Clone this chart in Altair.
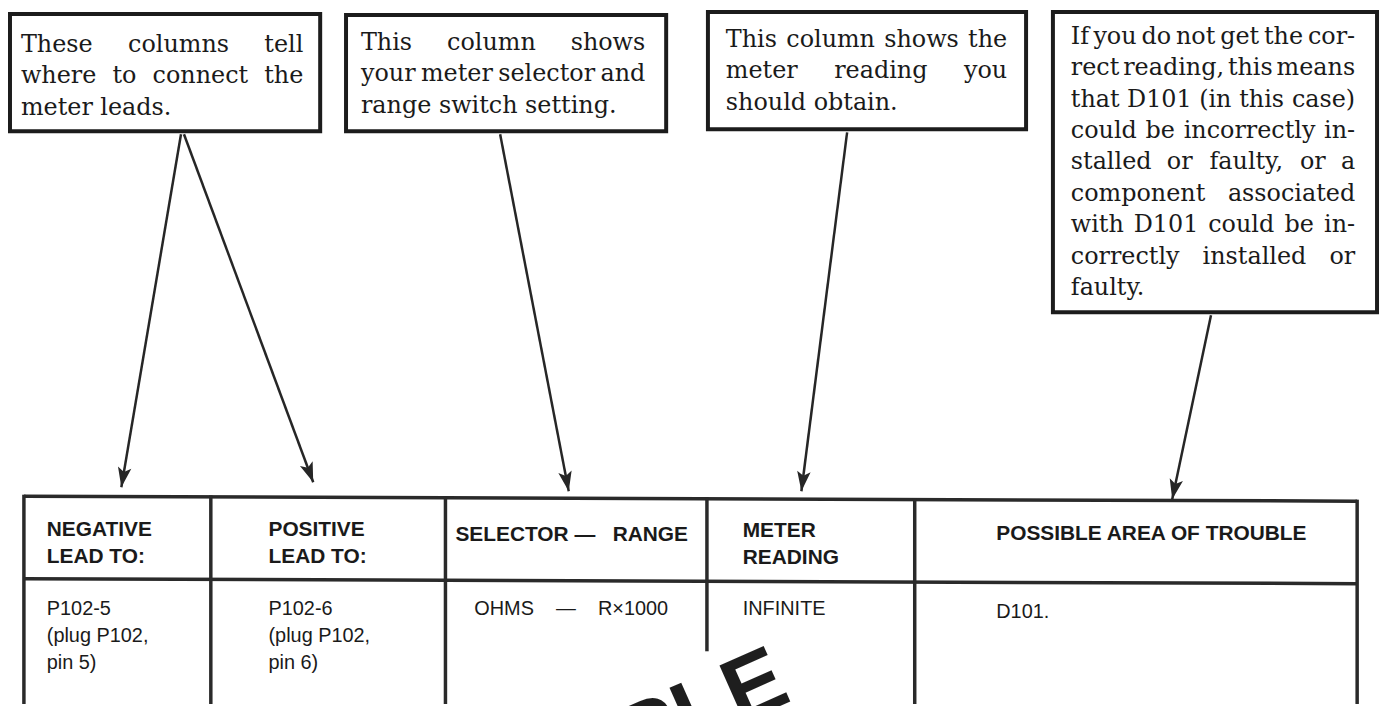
import math
import altair as alt
import pandas as pd

# ---------------- content ----------------
callout_lines = [
    ["These columns tell", "where to connect the", "meter leads."],
    ["This column shows", "your meter selector and", "range switch setting."],
    ["This column shows the", "meter reading you", "should obtain."],
    ["If you do not get the cor-", "rect reading, this means", "that D101 (in this case)",
     "could be incorrectly in-", "stalled or faulty, or a", "component associated",
     "with D101 could be in-", "correctly installed or", "faulty."],
]
header_lines = [["NEGATIVE", "LEAD TO:"], ["POSITIVE", "LEAD TO:"],
                ["SELECTOR —\u00a0\u00a0\u00a0RANGE"], ["METER", "READING"],
                ["POSSIBLE AREA OF TROUBLE"]]
body_lines = [["P102-5", "(plug P102,", "pin 5)"], ["P102-6", "(plug P102,", "pin 6)"],
              ["OHMS\u00a0\u00a0\u00a0\u00a0—\u00a0\u00a0\u00a0\u00a0R×1000"], ["INFINITE"], ["D101."]]
watermark_text = "SAMPLE"

# ---------------- layout (reference pixel coordinates) ----------------
box_left = [10, 348, 712, 1059]
box_right = [322, 670, 1032, 1385]
box_top = [12, 13, 10, 10]
box_bottom = [130, 130, 128, 312]
text_left = [21, 363, 730, 1077]
text_right = [305, 649, 1013, 1363]
first_baseline = [50, 48, 45, 42]
line_step = 31.6

arrow_x0 = [182, 185, 503, 852, 1218]
arrow_y0 = [133, 133, 133, 131, 315]
arrow_x1 = [122, 315, 572, 806, 1179]
arrow_y1 = [488, 483, 492, 492, 500]

col_x = [24, 212, 448, 711, 920, 1365]
col_bottom = [706, 706, 706, 653, 706, 706]
top_line = [497, 502]      # y at left / right end
header_line = [580, 585]
header_x = [47, 270, 458, 747, 1002]
header_y0 = [537, 537, 542, 538, 541]
header_step = 27
body_x = [47, 270, 477, 747, 1002]
body_y0 = [617, 617, 617, 617, 620]
body_step = 27
wm_x, wm_y, wm_angle = 798, 702, 336

INK = "#1a1a1a"
SERIF = "DejaVu Serif"
SERIF_SIZE = 24
SANS = "Liberation Sans"

# approximate advance widths (em) of the serif face, used to justify lines
SERIF_W = {' ': .318, 'a': .596, 'b': .640, 'c': .560, 'd': .640, 'e': .592, 'f': .370,
           'g': .640, 'h': .644, 'i': .320, 'j': .310, 'k': .602, 'l': .320, 'm': .948,
           'n': .644, 'o': .602, 'p': .640, 'q': .640, 'r': .478, 's': .513, 't': .402,
           'u': .644, 'v': .565, 'w': .856, 'x': .564, 'y': .565, 'z': .523, 'D': .771,
           'I': .372, 'T': .669, '0': .636, '1': .636, '.': .318, ',': .318, '(': .390,
           ')': .390, '-': .338}


def est_w(s):
    return sum(SERIF_W.get(c, 0.6) for c in s) * SERIF_SIZE


# ---------------- build tables ----------------
boxes = pd.DataFrame({"x": box_left, "x2": box_right, "y": box_top, "y2": box_bottom})

arrows = pd.DataFrame({"x": arrow_x0, "y": arrow_y0, "x2": arrow_x1, "y2": arrow_y1})
heads = pd.DataFrame({
    "x": arrow_x1, "y": arrow_y1,
    "ang": [math.degrees(math.atan2(-(b - a), (d - c))) % 360
            for a, b, c, d in zip(arrow_x0, arrow_x1, arrow_y0, arrow_y1)],
})


def interp(line, x):
    return line[0] + (line[1] - line[0]) * (x - col_x[0]) / (col_x[-1] - col_x[0])


segs = [
    dict(x=col_x[0], y=top_line[0], x2=col_x[-1], y2=top_line[1]),
    dict(x=col_x[0], y=header_line[0], x2=col_x[-1], y2=header_line[1]),
]
for cx, cb in zip(col_x, col_bottom):
    segs.append(dict(x=cx, y=interp(top_line, cx) - 1.5, x2=cx, y2=cb))
table_lines = pd.DataFrame(segs)

left_words, center_words, right_words = [], [], []
for b, lines in enumerate(callout_lines):
    L, R = text_left[b], text_right[b]
    for i, line in enumerate(lines):
        y = first_baseline[b] + i * line_step
        words = line.split(" ")
        if i == len(lines) - 1 or len(words) == 1:
            left_words.append(dict(x=L, y=y, t=line))
            continue
        widths = [est_w(w) for w in words]
        gap = (R - L - sum(widths)) / (len(words) - 1)
        cur = L
        for j, (w, ww) in enumerate(zip(words, widths)):
            if j == 0:
                left_words.append(dict(x=L, y=y, t=w))
            elif j == len(words) - 1:
                right_words.append(dict(x=R, y=y, t=w))
            else:
                center_words.append(dict(x=cur + ww / 2, y=y, t=w))
            cur += ww + gap

head_rows = [dict(x=header_x[c], y=header_y0[c] + k * header_step, t=t)
             for c, lines in enumerate(header_lines) for k, t in enumerate(lines)]
body_rows = [dict(x=body_x[c], y=body_y0[c] + k * body_step, t=t)
             for c, lines in enumerate(body_lines) for k, t in enumerate(lines)]
wm = pd.DataFrame([dict(x=wm_x, y=wm_y, t=watermark_text)])

# ---------------- chart ----------------
xs = alt.Scale(domain=[8, 1391], nice=False, zero=False)
ys = alt.Scale(domain=[8, 706], nice=False, zero=False, reverse=True)
X = alt.X("x:Q", scale=xs, axis=None)
Y = alt.Y("y:Q", scale=ys, axis=None)

table_layer = alt.Chart(table_lines).mark_rule(color="#2a2a2a", strokeWidth=3.5).encode(
    x=X, y=Y, x2="x2:Q", y2="y2:Q")
box_layer = alt.Chart(boxes).mark_rect(fill="white", stroke="#1c1c1c", strokeWidth=4).encode(
    x=X, y=Y, x2="x2:Q", y2="y2:Q")
arrow_layer = alt.Chart(arrows).mark_rule(color="#262626", strokeWidth=2.5).encode(
    x=X, y=Y, x2="x2:Q", y2="y2:Q")
head_layer = alt.Chart(heads).mark_point(
    shape="M0,0L-0.34,-1L0,-0.78L0.34,-1Z", filled=True, size=1600, opacity=1,
    color="#262626").encode(x=X, y=Y, angle=alt.Angle("ang:Q", scale=None))


def text_layer(rows, align, font, size, weight="normal"):
    return alt.Chart(pd.DataFrame(rows)).mark_text(
        align=align, baseline="alphabetic", font=font, fontSize=size,
        fontWeight=weight, color=INK).encode(x=X, y=Y, text="t:N")


layers = [
    table_layer, box_layer, arrow_layer, head_layer,
    text_layer(left_words, "left", SERIF, SERIF_SIZE),
    text_layer(center_words, "center", SERIF, SERIF_SIZE),
    text_layer(right_words, "right", SERIF, SERIF_SIZE),
    text_layer(head_rows, "left", SANS, 21, "bold"),
    text_layer(body_rows, "left", SANS, 20),
    alt.Chart(wm).mark_text(align="right", baseline="alphabetic", font=SANS, fontSize=90,
                            fontWeight="bold", angle=wm_angle, color="#1e1e1e").encode(
        x=X, y=Y, text="t:N"),
]

chart = alt.layer(*layers).properties(
    width=1383, height=698, padding=0,
    autosize=alt.AutoSizeParams(type="none"),
    background="white",
).configure_view(stroke=None)

chart.save("out.html", embed_options={"renderer": "svg", "actions": False})
